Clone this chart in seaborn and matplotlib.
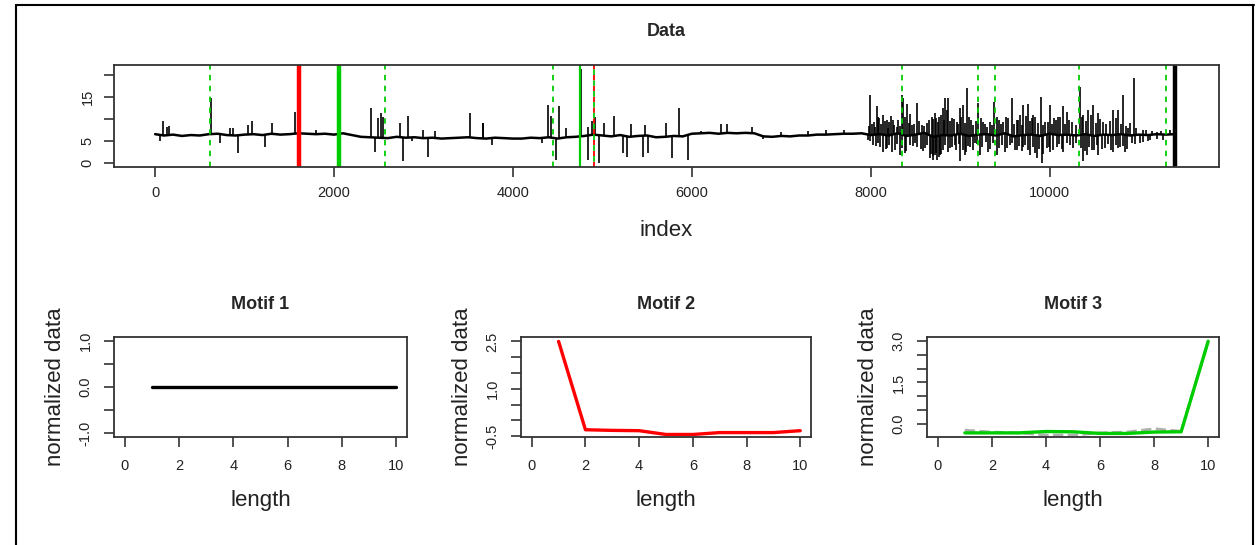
import numpy as np
import matplotlib
matplotlib.use("Agg")
import matplotlib.pyplot as plt
import seaborn as sns
from matplotlib.lines import Line2D

# ---- data: series (baseline every 100 points + spikes) ----
base_idx = list(range(0, 11500, 100))
base_val = [6.6, 6.3, 6.5, 6.2, 6.4, 6.3,
            6.6, 6.7, 6.4, 6.3, 6.5, 6.6, 6.4, 6.7, 6.5, 6.6,
            6.8, 6.7, 6.6, 6.7, 6.5,
            6.8, 6.4, 6.0,
            5.9, 5.8, 5.7, 6.0, 5.8, 5.9, 5.7, 5.8, 5.6, 5.7, 5.8, 5.9, 5.7, 5.6, 5.8, 5.7, 5.6,
            5.6, 5.8, 5.7, 5.9, 5.6, 5.9, 6.0,
            6.2, 6.5, 6.3, 6.1, 6.4, 6.0, 6.2, 6.3, 5.9, 6.0, 6.2, 6.1,
            6.7, 6.8, 6.9, 6.7, 6.9, 6.8, 6.9, 6.8,
            6.1, 6.0, 6.2, 6.1, 6.3, 6.3, 6.5, 6.5, 6.6, 6.7, 6.7, 6.8,
            6.4, 6.6, 6.3, 6.8, 6.2, 6.5, 6.9, 6.0, 6.4, 6.3, 6.7, 6.2, 6.5, 6.6, 6.3,
            6.8, 6.1, 6.4, 6.5, 6.2, 6.7, 6.4, 6.5, 6.3, 6.6, 6.2, 6.5, 6.4, 6.6, 6.3,
            6.5, 6.4, 6.6, 6.5, 6.6]

up_idx = [91, 129, 158, 620, 837, 874, 1042, 1079, 1303, 1563, 1800,
          2413, 2488, 2521, 2551, 2737, 2831, 3000, 3130, 3520, 3662, 3669,
          4389, 4426, 4515, 4594, 4758, 4843, 4880, 4918, 5022, 5134, 5317, 5477,
          5708, 5861, 6100, 6323, 6390, 6670, 7000, 7300, 7500, 7700,
          7993, 8037, 8067, 8097, 8142, 8179, 8209, 8246, 8291, 8347, 8365, 8410,
          8459, 8514, 8570, 8626, 8682, 8731, 8768, 8805, 8831, 8868, 8906, 8962,
          8999, 9036, 9081, 9118, 9204, 9260, 9297, 9379, 9409, 9483, 9539, 9577,
          9633, 9670, 9707, 9763, 9800, 9837, 9901, 9949, 10005, 10050, 10098,
          10147, 10192, 10247, 10341, 10378, 10434, 10490, 10546, 10601, 10713,
          10769, 10818, 10881, 10944, 11049, 11198]
up_val = [9.5, 8.3, 8.5, 14.8, 8.1, 8.1, 8.7, 9.5, 9.1, 11.7, 7.5,
          12.5, 10.2, 11.4, 10.6, 9.1, 10.8, 7.5, 7.3, 11.4, 9.1, 9.1,
          13.3, 10.8, 12.9, 8.1, 21.4, 8.3, 9.6, 10.6, 9.1, 10.8, 8.9, 8.7,
          9.1, 12.5, 7.3, 8.9, 8.9, 8.3, 7.2, 7.3, 7.5, 7.5,
          15.5, 9.4, 12.9, 10.2, 11.0, 9.8, 9.4, 9.8, 8.3, 15.5, 14.8, 13.4,
          8.7, 13.6, 8.7, 9.1, 10.6, 10.2, 10.6, 12.5, 14.8, 14.8, 10.2, 9.4,
          12.5, 13.2, 17.0, 9.8, 13.6, 9.4, 8.3, 14.0, 10.6, 9.4, 10.2, 14.8,
          9.8, 11.0, 13.2, 13.4, 10.2, 10.6, 15.1, 9.4, 13.2, 10.2, 10.6,
          13.1, 11.7, 9.4, 17.4, 11.0, 12.1, 13.2, 11.3, 9.4, 12.1,
          12.1, 15.5, 7.9, 19.4, 7.6, 7.2]

down_idx = [54, 725, 930, 1228, 2458, 2775, 2868, 3047, 3770,
            4322, 4482, 4843, 4966, 5235, 5279, 5451, 5507, 5775, 5961, 6800,
            7974, 8030, 8086, 8142, 8186, 8235, 8328, 8384, 8440, 8514, 8608,
            8663, 8693, 8719, 8745, 8775, 8831, 8887, 8943, 8999, 9055, 9111,
            9167, 9223, 9316, 9409, 9502, 9558, 9633, 9707, 9782, 9856, 9912,
            9968, 10005, 10080, 10154, 10229, 10378, 10415, 10471, 10546, 10620,
            10713, 10788, 10844, 10918, 11011, 11123, 11272]
down_val = [5.0, 4.6, 2.3, 3.8, 2.6, 0.4, 5.0, 1.5, 4.2,
            4.5, 0.75, 0.75, 0.0, 2.3, 1.5, 1.5, 2.3, 1.1, 0.75, 5.6,
            5.3, 4.1, 4.5, 2.6, 3.4, 2.6, 1.9, 2.3, 4.1, 3.8, 3.4,
            1.1, 0.7, 1.9, 0.7, 1.9, 4.1, 3.4, 4.1, 0.4, 1.9, 3.8,
            4.5, 1.9, 2.6, 1.9, 2.6, 4.1, 3.0, 3.8, 1.9, 1.1, 0.0,
            3.4, 2.6, 3.8, 2.6, 4.1, 0.4, 1.9, 3.0, 1.9, 3.4,
            2.6, 3.8, 2.6, 4.5, 4.5, 5.3, 5.3]

# smaller, denser wiggles in the noisy stretch after index 8000
fine_up_idx = [7985, 8010, 8050, 8080, 8120, 8160, 8195, 8225, 8265, 8310, 8330,
               8385, 8425, 8445, 8490, 8540, 8600, 8650, 8700, 8720, 8750, 8790,
               8820, 8850, 8890, 8930, 8980, 9015, 9060, 9100, 9140, 9180, 9230,
               9280, 9330, 9360, 9430, 9460, 9510, 9600, 9650, 9690, 9740, 9780,
               9820, 9870, 9930, 9980, 10030, 10070, 10120, 10170, 10220, 10300,
               10360, 10410, 10460, 10520, 10570, 10630, 10680, 10740, 10800,
               10850, 10900, 10970, 11080, 11150, 11250, 11350]
fine_up_val = [8.5, 9.0, 8.2, 10.5, 8.8, 9.5, 8.0, 10.8, 8.6, 9.9, 8.4,
               10.4, 9.2, 11.2, 8.8, 9.6, 8.5, 9.8, 10.0, 11.5, 9.3, 11.0,
               9.8, 12.0, 9.5, 10.1, 9.0, 10.4, 9.2, 10.6, 8.7, 9.5, 10.3,
               8.9, 9.4, 8.6, 9.8, 8.8, 10.5, 9.0, 9.9, 8.7, 10.8, 9.5,
               11.0, 9.1, 8.6, 9.3, 8.9, 9.8, 10.4, 9.0, 9.9, 8.7,
               10.5, 9.7, 10.9, 9.2, 10.1, 8.8, 9.6, 10.3, 9.0,
               8.5, 9.2, 8.0, 7.6, 7.4, 7.3, 7.5]
fine_down_idx = [7995, 8060, 8110, 8170, 8200, 8270, 8300, 8355, 8400, 8470, 8500,
                 8560, 8590, 8630, 8670, 8700, 8730, 8760, 8790, 8810, 8860, 8910,
                 8950, 8990, 9030, 9070, 9090, 9140, 9190, 9250, 9290, 9340, 9370,
                 9440, 9470, 9520, 9580, 9610, 9660, 9690, 9730, 9760, 9810, 9840,
                 9880, 9930, 9990, 10040, 10110, 10140, 10190, 10260, 10300, 10350,
                 10400, 10440, 10500, 10530, 10590, 10650, 10690, 10740, 10770,
                 10820, 10870, 10960, 11050, 11100, 11200]
fine_down_val = [5.0, 4.0, 3.6, 3.2, 4.2, 3.0, 4.4, 3.5, 2.8, 3.9, 4.6,
                 3.3, 2.7, 4.2, 2.0, 1.6, 2.4, 1.4, 2.2, 3.0, 2.6, 3.8,
                 2.9, 4.4, 3.1, 2.5, 4.0, 2.9, 4.3, 3.6, 4.8, 3.2, 4.5,
                 3.4, 4.1, 3.5, 4.6, 3.1, 3.9, 2.7, 4.2, 3.0, 3.6, 2.4,
                 3.2, 2.2, 3.8, 3.0, 4.3, 3.3, 4.5, 3.5, 4.7, 3.4,
                 2.8, 3.6, 2.9, 4.1, 3.2, 4.3, 3.0, 4.2, 3.5,
                 4.0, 3.3, 4.4, 4.9, 5.0, 5.4]

# motif occurrence locations (index)
motif1_main = [11398]
motif2_main = [1611]
motif2_other = [4910]
motif3_main = [2055]
motif3_near = [4747]
motif3_other = [616, 2573, 4452, 8351, 9201, 9391, 10327, 11303]

# ---- data: motifs ----
length = list(range(1, 11))
motif1 = [0.0, 0.0, 0.0, 0.0, 0.0, 0.0, 0.0, 0.0, 0.0, 0.0]
motif2 = [2.5, -0.30, -0.32, -0.33, -0.45, -0.45, -0.39, -0.39, -0.39, -0.33]
motif3 = [-0.34, -0.34, -0.34, -0.29, -0.30, -0.36, -0.36, -0.31, -0.30, 3.0]
motif3_alt = [-0.24, -0.31, -0.34, -0.42, -0.42, -0.34, -0.31, -0.19, -0.28, 3.0]

# ======== style ========
sns.set_theme(style="white")
plt.rcParams["font.family"] = ["Liberation Sans", "DejaVu Sans"]
GREEN = "#00cd00"
TXT = "#222222"

fig = plt.figure(figsize=(12.58, 5.45), dpi=100)
W, H = 1258, 545


def px_axes(l, t, r, b):
    return fig.add_axes([l / W, 1 - b / H, (r - l) / W, (b - t) / H])


def r_style(ax, pad=7):
    for s in ax.spines.values():
        s.set_color("#333333")
        s.set_linewidth(1.3)
    ax.tick_params(axis="both", direction="out", length=7, width=1.2,
                   color="#333333", labelsize=10.5, labelcolor=TXT, pad=pad,
                   left=True, bottom=True)
    for lab in ax.get_yticklabels():
        lab.set_rotation(90)
        lab.set_va("center")


# ---- top panel ----
ax = px_axes(114, 65, 1219, 167)
sns.lineplot(x=base_idx, y=base_val, color="black", linewidth=1.8, ax=ax)
for ix, vals, is_up in [(up_idx, up_val, True), (down_idx, down_val, False),
                        (fine_up_idx, fine_up_val, True),
                        (fine_down_idx, fine_down_val, False)]:
    lvl = np.interp(ix, base_idx, base_val)
    if is_up:
        ax.vlines(ix, lvl, vals, color="black", linewidth=1.2)
    else:
        ax.vlines(ix, vals, lvl, color="black", linewidth=1.2)
for x in motif3_other:
    ax.axvline(x, color=GREEN, linestyle=(0, (3, 3)), linewidth=1.3)
for x in motif3_near:
    ax.axvline(x, color=GREEN, linewidth=1.6)
for x in motif2_other:
    ax.axvline(x, color="red", linestyle=(0, (3, 3)), linewidth=1.3)
    ax.axvline(x, color=GREEN, linestyle=(3, (3, 3)), linewidth=1.3)
for x in motif2_main:
    ax.axvline(x, color="red", linewidth=3.2)
for x in motif3_main:
    ax.axvline(x, color=GREEN, linewidth=3.2)
for x in motif1_main:
    ax.axvline(x, color="black", linewidth=3.2)
ax.set_xlim(-460, 11895)
ax.set_ylim(-0.85, 22.3)
ax.set_xticks([0, 2000, 4000, 6000, 8000, 10000])
ax.set_xticklabels(["0", "2000", "4000", "6000", "8000", "10000"])
ax.set_yticks([0, 5, 10, 15, 20])
ax.set_yticklabels(["0", "5", "", "15", ""])
r_style(ax)
ax.set_title("Data", fontsize=13, fontweight="bold", pad=21)
ax.set_xlabel("index", fontsize=16, color=TXT, va="top")
ax.xaxis.set_label_coords(0.5, -0.52)
ax.set_ylabel("")

# ---- motif panels ----
panels = [
    (114, 407, "Motif 1", (-1.08, 1.08), [-1, -0.5, 0, 0.5, 1],
     ["-1.0", "", "0.0", "", "1.0"]),
    (521, 811, "Motif 2", (-0.53, 2.64), [-0.5, 0, 0.5, 1, 1.5, 2, 2.5],
     ["-0.5", "", "", "1.0", "", "", "2.5"]),
    (927, 1219, "Motif 3", (-0.49, 3.155), [0, 0.5, 1, 1.5, 2, 2.5, 3],
     ["0.0", "", "", "1.5", "", "", "3.0"]),
]
axes = []
for l, r, title, ylim, yt, ytl in panels:
    a = px_axes(l, 337, r, 437)
    axes.append(a)

sns.lineplot(x=length, y=motif1, color="black", linewidth=2.4, ax=axes[0])
sns.lineplot(x=length, y=motif2, color="red", linewidth=2.4, ax=axes[1])
sns.lineplot(x=length, y=motif3_alt, color="#b0b0b0", linewidth=2.0,
             linestyle="--", ax=axes[2])
sns.lineplot(x=length, y=motif3, color=GREEN, linewidth=2.4, ax=axes[2])

for a, (l, r, title, ylim, yt, ytl) in zip(axes, panels):
    a.set_xlim(-0.4, 10.4)
    a.set_ylim(*ylim)
    a.set_xticks([0, 2, 4, 6, 8, 10])
    a.set_yticks(yt)
    a.set_yticklabels(ytl)
    r_style(a, pad=8.5)
    a.set_title(title, fontsize=13, fontweight="bold", pad=20)
    a.set_xlabel("length", fontsize=16, color=TXT, va="top")
    a.xaxis.set_label_coords(0.5, -0.53)
    a.set_ylabel("normalized data", fontsize=16, color=TXT)
    a.yaxis.set_label_coords(-0.165, 0.5)

# screenshot frame
fig.add_artist(Line2D([16 / W, 1254 / W], [1 - 5 / H, 1 - 5 / H],
                      color="black", linewidth=1.5))
fig.add_artist(Line2D([16 / W, 16 / W], [0, 1 - 5 / H], color="black", linewidth=1.5))
fig.add_artist(Line2D([1253 / W, 1253 / W], [0, 1 - 5 / H], color="black", linewidth=1.5))

fig.savefig("out.png", dpi=100, facecolor="white")
